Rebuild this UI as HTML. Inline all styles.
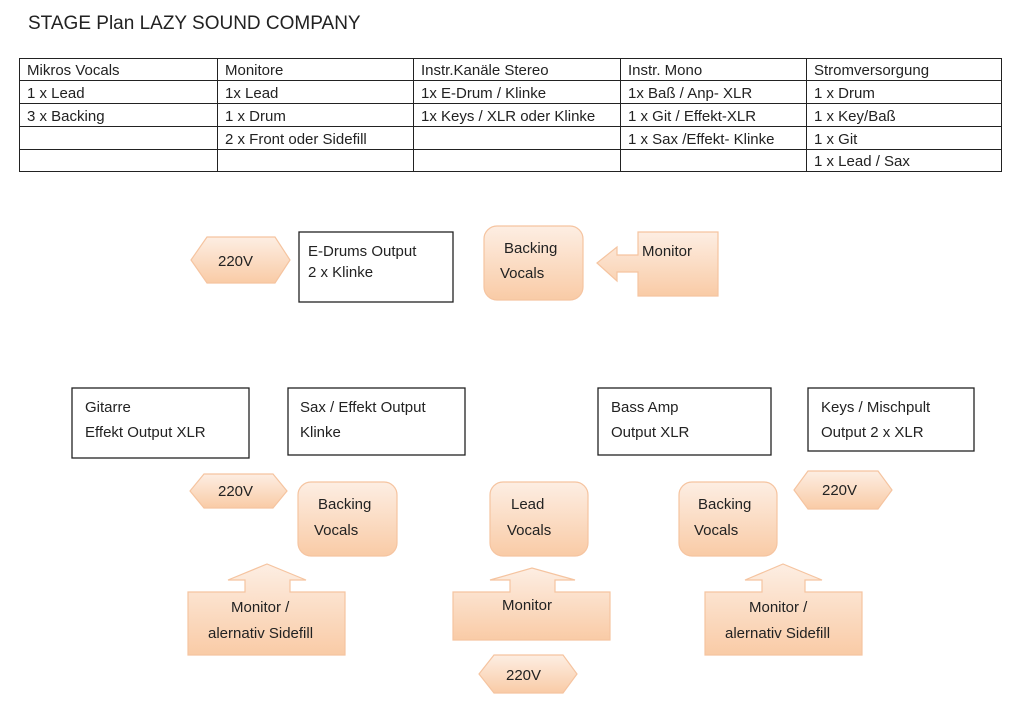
<!DOCTYPE html>
<html><head><meta charset="utf-8"><style>
body{margin:0;background:#fff;width:1024px;height:717px;overflow:hidden;font-family:"Liberation Sans",sans-serif}
</style></head><body>
<svg width="1024" height="717" xmlns="http://www.w3.org/2000/svg" font-family="Liberation Sans, sans-serif" font-size="15" fill="#222">
<defs>
<linearGradient id="g" x1="0" y1="0" x2="0" y2="1"><stop offset="0" stop-color="#fdeee3"/><stop offset="1" stop-color="#f9cba6"/></linearGradient>
</defs>
<text x="28" y="29" font-size="19">STAGE Plan LAZY SOUND COMPANY</text>
<g stroke="#222" stroke-width="1" fill="none">
<rect x="19.5" y="58.5" width="982" height="113"/>
<line x1="19" y1="80.5" x2="1002" y2="80.5"/><line x1="19" y1="103.5" x2="1002" y2="103.5"/>
<line x1="19" y1="126.5" x2="1002" y2="126.5"/><line x1="19" y1="149.5" x2="1002" y2="149.5"/>
<line x1="217.5" y1="58" x2="217.5" y2="172"/><line x1="413.5" y1="58" x2="413.5" y2="172"/>
<line x1="620.5" y1="58" x2="620.5" y2="172"/><line x1="806.5" y1="58" x2="806.5" y2="172"/>
</g>
<g>
<text x="27" y="75">Mikros Vocals</text><text x="225" y="75">Monitore</text><text x="421" y="75">Instr.Kanäle Stereo</text><text x="628" y="75">Instr. Mono</text><text x="814" y="75">Stromversorgung</text>
<text x="27" y="98">1 x Lead</text><text x="225" y="98">1x Lead</text><text x="421" y="98">1x E-Drum / Klinke</text><text x="628" y="98">1x Baß / Anp- XLR</text><text x="814" y="98">1 x Drum</text>
<text x="27" y="121">3 x Backing</text><text x="225" y="121">1 x Drum</text><text x="421" y="121">1x Keys / XLR oder Klinke</text><text x="628" y="121">1 x Git / Effekt-XLR</text><text x="814" y="121">1 x Key/Baß</text>
<text x="225" y="144">2 x Front oder Sidefill</text><text x="628" y="144">1 x Sax /Effekt- Klinke</text><text x="814" y="144">1 x Git</text>
<text x="814" y="166">1 x Lead / Sax</text>
</g>
<g stroke="#222" stroke-width="1.3" fill="#fff">
<rect x="299" y="232" width="154" height="70"/>
<rect x="72" y="388" width="177" height="70"/>
<rect x="288" y="388" width="177" height="67"/>
<rect x="598" y="388" width="173" height="67"/>
<rect x="808" y="388" width="166" height="63"/>
</g>
<g fill="url(#g)" stroke="#f5c4a0" stroke-width="1.2">
<polygon points="191,260 207,237 275,237 290,260 275,283 207,283"/>
<rect x="484" y="226" width="99" height="74" rx="13"/>
<polygon points="597,263 617,247 617,255 638,255 638,232 718,232 718,296 638,296 638,272 617,272 617,281"/>
<polygon points="190,491 204,474 273,474 287,491 273,508 204,508"/>
<rect x="298" y="482" width="99" height="74" rx="13"/>
<rect x="490" y="482" width="98" height="74" rx="13"/>
<rect x="679" y="482" width="98" height="74" rx="13"/>
<polygon points="794,490 808,471 878,471 892,490 878,509 808,509"/>
<polygon points="188,592 245,592 245,580 228,580 267,564 306,580 290,580 290,592 345,592 345,655 188,655"/>
<polygon points="453,592 510,592 510,580 490,580 532,568 575,580 555,580 555,592 610,592 610,640 453,640"/>
<polygon points="705,592 762,592 762,580 745,580 783,564 822,580 805,580 805,592 862,592 862,655 705,655"/>
<polygon points="479,674 494,655 563,655 577,674 563,693 494,693"/>
</g>
<g>
<text x="218" y="266">220V</text>
<text x="308" y="256">E-Drums Output</text><text x="308" y="277">2 x Klinke</text>
<text x="504" y="253">Backing</text><text x="500" y="278">Vocals</text>
<text x="642" y="256">Monitor</text>
<text x="85" y="412">Gitarre</text><text x="85" y="437">Effekt Output XLR</text>
<text x="300" y="412">Sax / Effekt Output</text><text x="300" y="437">Klinke</text>
<text x="611" y="412">Bass Amp</text><text x="611" y="437">Output XLR</text>
<text x="821" y="412">Keys / Mischpult</text><text x="821" y="437">Output 2 x XLR</text>
<text x="218" y="496">220V</text>
<text x="318" y="509">Backing</text><text x="314" y="535">Vocals</text>
<text x="511" y="509">Lead</text><text x="507" y="535">Vocals</text>
<text x="698" y="509">Backing</text><text x="694" y="535">Vocals</text>
<text x="822" y="495">220V</text>
<text x="231" y="612">Monitor /</text><text x="208" y="638">alernativ Sidefill</text>
<text x="502" y="610">Monitor</text>
<text x="749" y="612">Monitor /</text><text x="725" y="638">alernativ Sidefill</text>
<text x="506" y="680">220V</text>
</g>
</svg>
</body></html>
